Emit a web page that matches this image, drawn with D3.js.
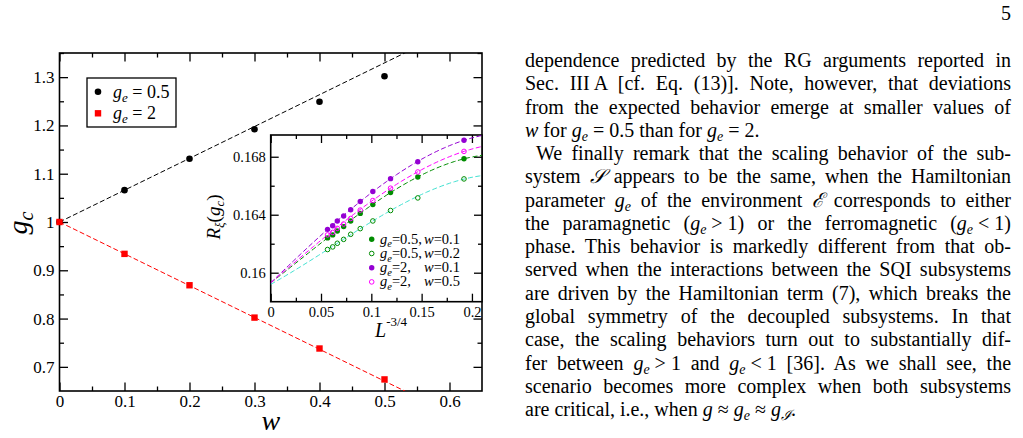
<!DOCTYPE html>
<html>
<head>
<meta charset="utf-8">
<script src="https://cdn.jsdelivr.net/npm/d3@7"></script>
<style>
html, body { margin: 0; padding: 0; background: #fff; }
</style>
</head>
<body>
<svg id="page" width="1023" height="438"></svg>
<script>
// ---- main panel : g_c versus w ----
const wValues = [0, 0.1, 0.2, 0.3, 0.4, 0.5];
const gcHalf = [1.0, 1.066, 1.131, 1.192, 1.249, 1.302];   // g_e = 0.5
const gcTwo = [1.0, 0.934, 0.869, 0.802, 0.738, 0.674];    // g_e = 2
const mainFitSlopes = [0.659, -0.659];                     // g_c = 1 + s*w
const mainXTicks = [0, 0.1, 0.2, 0.3, 0.4, 0.5, 0.6];
const mainYTicks = [0.7, 0.8, 0.9, 1, 1.1, 1.2, 1.3];

// ---- inset : R_xi(g_c) versus L^(-3/4) ----
const lValues = [0.0565, 0.0616, 0.0662, 0.0725, 0.0795, 0.0890, 0.1015, 0.1191, 0.1462, 0.1921];
const rHalfW01 = [0.16240, 0.16261, 0.16288, 0.16318, 0.16357, 0.16409, 0.16470, 0.16553, 0.16660, 0.16786];
const rHalfW02 = [0.16160, 0.16178, 0.16203, 0.16230, 0.16265, 0.16304, 0.16357, 0.16429, 0.16516, 0.16647];
const rTwoW01 = [0.16299, 0.16324, 0.16357, 0.16391, 0.16434, 0.16491, 0.16560, 0.16649, 0.16765, 0.16914];
const rTwoW05 = [0.16261, 0.16278, 0.16306, 0.16336, 0.16374, 0.16432, 0.16498, 0.16583, 0.16695, 0.16837];
// fitted curves a + b x + c x^2 + d x^3
const fitHalfW01 = [0.1593, 0.0540, 0.0422, -0.4759];
const fitHalfW02 = [0.1592, 0.0385, 0.0994, -0.5367];
const fitTwoW01 = [0.1593, 0.0675, -0.0206, -0.3348];
const fitTwoW05 = [0.1593, 0.0596, 0.0000, -0.3359];
const insetXTicks = [0, 0.05, 0.1, 0.15, 0.2];
const insetYTicks = [0.16, 0.164, 0.168];

const SERIF = '"Liberation Serif", "Times New Roman", Times, "DejaVu Serif", serif';
const svg = d3.select('#page').attr('font-family', SERIF).style('font-family', SERIF);

// repères des deux cadres
const x = d3.scaleLinear().domain([0, 0.65]).range([59.5, 482]);
const y = d3.scaleLinear().domain([0.65, 1.35]).range([391, 53]);
const ix = d3.scaleLinear().domain([0, 0.21]).range([270.7, 482]);
const iy = d3.scaleLinear().domain([0.158, 0.1695]).range([301.7, 135]);

function frame(g, sx, sy, o) {
	const [xl, xr] = sx.range();
	const [yb, yt] = sy.range();
	const styleAxis = a => {
		a.select('.domain').remove();
		a.selectAll('line').attr('stroke', '#000').attr('stroke-width', 1.3);
		a.attr('font-family', SERIF).attr('font-size', o.fontSize);
		a.selectAll('text').attr('fill', '#000');
	};
	const sides = [
		[d3.axisBottom, sx, `translate(0,${yb})`, o.xMajor, o.xMinor, o.xFmt, o.padX],
		[d3.axisTop, sx, `translate(0,${yt})`, o.xMajor, o.xMinor, null, 0],
		[d3.axisLeft, sy, `translate(${xl},0)`, o.yMajor, o.yMinor, o.yFmt, o.padY],
		[d3.axisRight, sy, `translate(${xr},0)`, o.yMajor, o.yMinor, null, 0]
	];
	sides.forEach(([axisFn, sc, tr, major, minor, fmt, pad]) => {
		g.append('g').attr('transform', tr)
			.call(axisFn(sc).tickValues(minor).tickSize(-o.minorLen).tickFormat(''))
			.call(styleAxis);
		g.append('g').attr('transform', tr)
			.call(axisFn(sc).tickValues(major).tickSize(-o.majorLen).tickPadding(pad)
				.tickFormat(fmt ? fmt : ''))
			.call(styleAxis);
	});
	g.append('rect')
		.attr('x', xl).attr('y', yt)
		.attr('width', xr - xl).attr('height', yb - yt)
		.attr('fill', 'none').attr('stroke', '#000').attr('stroke-width', 1.6);
}

// ---------- main panel ----------
const main = svg.append('g');
frame(main, x, y, {
	xMajor: mainXTicks, xMinor: d3.range(0.05, 0.65, 0.1),
	yMajor: mainYTicks, yMinor: d3.range(0.75, 1.35, 0.1),
	xFmt: d => d === 0 ? '0' : d3.format('.1f')(d),
	yFmt: d => d === 1 ? '1' : d3.format('.1f')(d),
	padX: 4, padY: 5, majorLen: 8.5, minorLen: 4.5, fontSize: 17
});

svg.append('clipPath').attr('id', 'mainClip')
	.append('rect').attr('x', 59.5).attr('y', 53).attr('width', 422.5).attr('height', 338);

const fitColors = ['#000', '#ff0000'];
main.append('g').attr('clip-path', 'url(#mainClip)')
	.selectAll('path')
	.data(mainFitSlopes)
	.join('path')
		.attr('d', s => d3.line()([[x(0), y(1)], [x(0.65), y(1 + s * 0.65)]]))
		.attr('fill', 'none')
		.attr('stroke', (s, i) => fitColors[i])
		.attr('stroke-width', 1)
		.attr('stroke-dasharray', '5,2.5');

main.append('g').selectAll('circle')
	.data(wValues)
	.join('circle')
		.attr('cx', d => x(d))
		.attr('cy', (d, i) => y(gcHalf[i]))
		.attr('r', 3.3)
		.attr('fill', '#000');

main.append('g').selectAll('rect')
	.data(wValues)
	.join('rect')
		.attr('x', d => x(d) - 3.2)
		.attr('y', (d, i) => y(gcTwo[i]) - 3.2)
		.attr('width', 6.4).attr('height', 6.4)
		.attr('fill', '#ff0000');

// légende principale
const leg = main.append('g');
leg.append('rect').attr('x', 87).attr('y', 78).attr('width', 89).attr('height', 49)
	.attr('fill', '#fff').attr('stroke', '#000').attr('stroke-width', 1.3);
leg.append('circle').attr('cx', 98).attr('cy', 91.7).attr('r', 3.3).attr('fill', '#000');
leg.append('rect').attr('x', 94.8).attr('y', 110.1).attr('width', 6.4).attr('height', 6.4).attr('fill', '#ff0000');
[['0.5', 97.5], ['2', 119]].forEach(([v, by]) => {
	const t = leg.append('text').attr('x', 113).attr('y', by).attr('font-size', 18);
	t.append('tspan').attr('font-style', 'italic').text('g');
	t.append('tspan').attr('font-style', 'italic').attr('font-size', 13).attr('dy', 4).text('e');
	t.append('tspan').attr('dy', -4).text(' = ' + v);
});

// titres d'axes
const gcTitle = svg.append('text')
	.attr('transform', 'translate(27,223) rotate(-90)')
	.attr('text-anchor', 'middle').attr('font-size', 28);
gcTitle.append('tspan').attr('font-style', 'italic').text('g');
gcTitle.append('tspan').attr('font-style', 'italic').attr('font-size', 20).attr('dy', 6).text('c');

svg.append('text').attr('x', x(0.325)).attr('y', 430)
	.attr('text-anchor', 'middle').attr('font-size', 28).attr('font-style', 'italic').text('w');

// ---------- inset ----------
const inset = svg.append('g');
inset.append('rect').attr('x', 270.7).attr('y', 135).attr('width', 211.3).attr('height', 166.7)
	.attr('fill', '#fff');
frame(inset, ix, iy, {
	xMajor: insetXTicks, xMinor: d3.range(0.025, 0.21, 0.05),
	yMajor: insetYTicks, yMinor: [0.162, 0.166],
	xFmt: d => d === 0 ? '0' : String(+d.toFixed(2)),
	yFmt: d => String(+d.toFixed(3)),
	padX: 5, padY: 5, majorLen: 8, minorLen: 4, fontSize: 14.5
});

const series = [
	{ values: rHalfW01, fit: fitHalfW01, color: '#008c00', lineColor: '#008c00', open: false, ge: '0.5,', w: '0.1' },
	{ values: rHalfW02, fit: fitHalfW02, color: '#008c00', lineColor: '#40e0d0', open: true, ge: '0.5,', w: '0.2' },
	{ values: rTwoW01, fit: fitTwoW01, color: '#9400d3', lineColor: '#9400d3', open: false, ge: '2,', w: '0.1' },
	{ values: rTwoW05, fit: fitTwoW05, color: '#ff00ff', lineColor: '#ff00ff', open: true, ge: '2,', w: '0.5' }
];

svg.append('clipPath').attr('id', 'insetClip')
	.append('rect').attr('x', 270.7).attr('y', 135).attr('width', 211.3).attr('height', 166.7);

const fitX = d3.range(0, 0.2125, 0.0025);
const fitLine = d3.line().x(d => ix(d[0])).y(d => iy(d[1]));
inset.append('g').attr('clip-path', 'url(#insetClip)')
	.selectAll('path')
	.data(series)
	.join('path')
		.attr('d', s => fitLine(fitX.map(t => [t, s.fit[0] + s.fit[1] * t + s.fit[2] * t * t + s.fit[3] * t * t * t])))
		.attr('fill', 'none')
		.attr('stroke', s => s.lineColor)
		.attr('stroke-width', 1)
		.attr('stroke-dasharray', '5,2.5');

series.forEach(s => {
	inset.append('g').selectAll('circle')
		.data(lValues)
		.join('circle')
			.attr('cx', d => ix(d))
			.attr('cy', (d, i) => iy(s.values[i]))
			.attr('r', s.open ? 2.3 : 2.7)
			.attr('fill', s.open ? 'none' : s.color)
			.attr('stroke', s.open ? s.color : 'none')
			.attr('stroke-width', 1);
});

// légende de l'encart
series.forEach((s, i) => {
	const cy = 239.3 + i * 14.2;
	inset.append('circle').attr('cx', 371.7).attr('cy', cy)
		.attr('r', s.open ? 2.3 : 2.7)
		.attr('fill', s.open ? 'none' : s.color)
		.attr('stroke', s.open ? s.color : 'none');
	const t = inset.append('text').attr('x', 380).attr('y', cy + 4.5).attr('font-size', 14.5);
	t.append('tspan').attr('font-style', 'italic').text('g');
	t.append('tspan').attr('font-style', 'italic').attr('font-size', 10.5).attr('dy', 3.5).text('e');
	t.append('tspan').attr('dy', -3.5).text('=' + s.ge);
	const t2 = inset.append('text').attr('x', 424).attr('y', cy + 4.5).attr('font-size', 14.5);
	t2.append('tspan').attr('font-style', 'italic').text('w');
	t2.append('tspan').text('=' + s.w);
});

const rTitle = svg.append('text')
	.attr('transform', 'translate(220,217) rotate(-90)')
	.attr('text-anchor', 'middle').attr('font-size', 19);
rTitle.append('tspan').attr('font-style', 'italic').text('R');
rTitle.append('tspan').attr('font-style', 'italic').attr('font-size', 13).attr('dy', 4).text('ξ');
rTitle.append('tspan').attr('dy', -4).text('(');
rTitle.append('tspan').attr('font-style', 'italic').text('g');
rTitle.append('tspan').attr('font-style', 'italic').attr('font-size', 13).attr('dy', 4).text('c');
rTitle.append('tspan').attr('dy', -4).text(')');

const lTitle = svg.append('text').attr('x', 375).attr('y', 337).attr('font-size', 20);
lTitle.append('tspan').attr('font-style', 'italic').text('L');
lTitle.append('tspan').attr('font-size', 13).attr('dy', -11).text('-3/4');

// ---------- texte de la colonne de droite ----------
svg.append('text').attr('x', 1006).attr('y', 20).attr('text-anchor', 'middle')
	.attr('font-size', 20).text('5');

const M = '\u2005';
const textLines = [
	['dependence predicted by the RG arguments reported in', true, 0],
	['Sec. III\u2009A [cf. Eq. (13)]. Note, however, that deviations', true, 0],
	['from the expected behavior emerge at smaller values of', true, 0],
	[`{i:w} for {i:g}{s:e}${M}=${M}0.5 than for {i:g}{s:e}${M}=${M}2.`, false, 0],
	['We finally remark that the scaling behavior of the sub-', true, 11],
	['system {c:𝒮} appears to be the same, when the Hamiltonian', true, 0],
	['parameter {i:g}{s:e} of the environment {c:ℰ} corresponds to either', true, 0],
	[`the paramagnetic ({i:g}{s:e}${M}>${M}1) or the ferromagnetic ({i:g}{s:e}${M}<${M}1)`, true, 0],
	['phase. This behavior is markedly different from that ob-', true, 0],
	['served when the interactions between the SQI subsystems', true, 0],
	['are driven by the Hamiltonian term (7), which breaks the', true, 0],
	['global symmetry of the decoupled subsystems. In that', true, 0],
	['case, the scaling behaviors turn out to substantially dif-', true, 0],
	[`fer between {i:g}{s:e}${M}>${M}1 and {i:g}{s:e}${M}<${M}1 [36]. As we shall see, the`, true, 0],
	['scenario becomes more complex when both subsystems', true, 0],
	[`are critical, i.e., when {i:g}${M}≈${M}{i:g}{s:e}${M}≈${M}{i:g}{s:ℐ}.`, false, 0]
];

const textLeft = 525, textRight = 1011;
textLines.forEach(([spec, justify, indent], k) => {
	const t = svg.append('text')
		.attr('x', textLeft + indent)
		.attr('y', 67 + k * 23.27)
		.attr('font-size', 20);
	const re = /\{([ics]):([^}]*)\}/g;
	let last = 0, m, shifted = false;
	const add = (str, kind) => {
		const s = t.append('tspan').text(str);
		if (kind === 'i' || kind === 'c') s.attr('font-style', 'italic');
		if (kind === 's') {
			s.attr('font-style', 'italic').attr('font-size', 14).attr('dy', 4);
			shifted = true;
		} else if (shifted) {
			s.attr('dy', -4);
			shifted = false;
		}
	};
	while ((m = re.exec(spec))) {
		if (m.index > last) add(spec.slice(last, m.index), 'n');
		add(m[2], m[1]);
		last = re.lastIndex;
	}
	if (last < spec.length) add(spec.slice(last), 'n');

	if (justify) {
		const target = textRight - textLeft - indent;
		const node = t.node();
		const natural = node.getComputedTextLength();
		const spaces = (node.textContent.match(/ /g) || []).length;
		t.style('word-spacing', ((target - natural) / spaces) + 'px');
		if (Math.abs(node.getComputedTextLength() - target) > 2) {
			t.style('word-spacing', null)
				.attr('textLength', target).attr('lengthAdjust', 'spacing');
		}
	}
});
</script>
</body>
</html>
